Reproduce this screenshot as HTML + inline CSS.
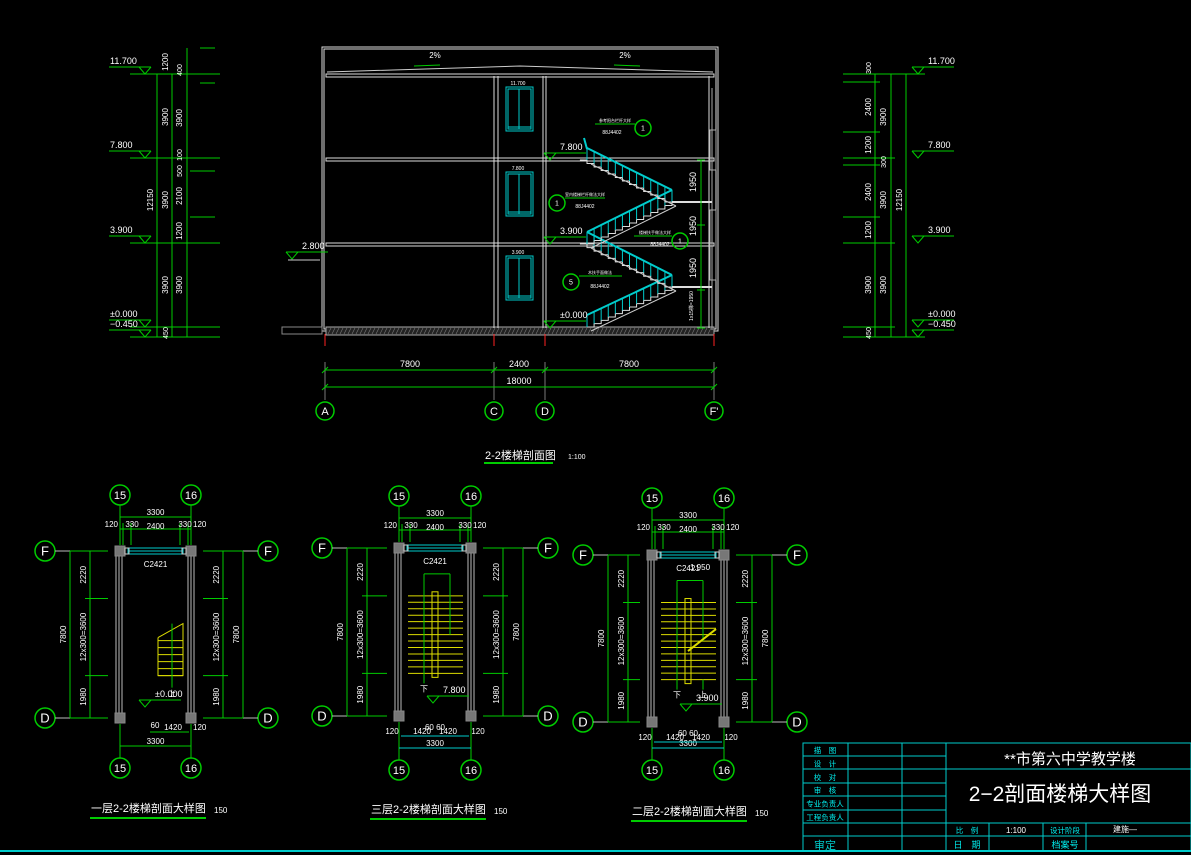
<!DOCTYPE html>
<html><head><meta charset="utf-8"><style>
html,body{margin:0;padding:0;background:#000;width:1191px;height:855px;overflow:hidden}
svg{display:block}
text{font-family:"Liberation Sans","Noto Sans CJK SC",sans-serif;fill:#fff}
</style></head><body>
<svg id="s" width="1191" height="855" viewBox="0 0 1191 855" xmlns="http://www.w3.org/2000/svg">
<rect width="1191" height="855" fill="#000"/>
<g id="g"></g>
</svg>
<script>
var o=[];
function L(x1,y1,x2,y2,c,w){o.push('<line x1="'+x1+'" y1="'+y1+'" x2="'+x2+'" y2="'+y2+'" stroke="'+(c||'#0c0')+'" stroke-width="'+(w||1)+'"/>');}
function R(x,y,w,h,c,f,sw){o.push('<rect x="'+x+'" y="'+y+'" width="'+w+'" height="'+h+'" stroke="'+(c||'#fff')+'" fill="'+(f||'none')+'" stroke-width="'+(sw||1)+'"/>');}
function T(x,y,t,s,a,rot,c){o.push('<text x="'+x+'" y="'+y+'" font-size="'+(s||9)+'" text-anchor="'+(a||'middle')+'"'+(rot?' transform="rotate(-90 '+x+' '+y+')"':'')+(c?' style="fill:'+c+'"':'')+'>'+t+'</text>');}
function C(x,y,r,t,s){o.push('<circle cx="'+x+'" cy="'+y+'" r="'+r+'" stroke="#0c0" stroke-width="1.5" fill="none"/>');T(x,y+s*0.36,t,s);}
function P(pts,c,w){o.push('<polyline points="'+pts+'" stroke="'+c+'" fill="none" stroke-width="'+(w||1)+'"/>');}
function LV(x,y,t,right){ // level marker; triangle apex at (x,y)
  P((x-6)+','+(y-7)+' '+x+','+y+' '+(x+6)+','+(y-7),'#0c0');
  if(right){L(x-6,y-7,x+36,y-7);T(x+10,y-10,t,9,'start');}
  else{L(x+6,y-7,x-36,y-7);T(x-35,y-10,t,9,'start');}
}
/* ---------- section ---------- */
var W='#ddd';
R(322,47,396,284,W);R(324,49,392,280,W);
// slabs
[74,158,243].forEach(function(y){R(326,y,388,3,W);});
R(326,327,388,8,'#aaa','#222');
for(var i=328;i<712;i+=4)L(i,334,i+3,328,'#777',0.6);
// roof slope
P('327,72 520,66 713,72','#ccc');
T(435,58,'2%',8);T(625,58,'2%',8);L(414,66,440,65,'#0c0');L(614,65,640,66,'#0c0');
// columns
[[494,498],[543,546]].forEach(function(c){L(c[0],76,c[0],328,W);L(c[1],76,c[1],328,W);});
L(709,76,709,328,W);L(712,88,712,330,'#aaa');
R(710,130,6,40,'#aaa');R(710,210,6,70,'#aaa');
// windows
[87,172,256].forEach(function(y){R(506,y,27,44,'#0cc');R(508,y+2,23,40,'#0cc');L(519,y+2,519,y+42,'#0cc');L(508,y+40,531,y+40,'#0cc');});
T(518,85,'11.700',5);T(518,170,'7.800',5);T(518,254,'3.900',5);
// stairs
function fl(x1,y1,x2,y2){var n=12;var pts='';for(var k=0;k<=n;k++){var x=x1+(x2-x1)*k/n,y=y1+(y2-y1)*k/n;pts+=x+','+y+' '+(x+(x2-x1)/n)+','+y+' ';}
 P(pts,'#ddd',1);L(x1+4,y1+4,x2+4,y2+4,'#ccc');
 // railing
 var ry=-12;L(x1,y1+ry,x2,y2+ry,'#0cc',2);for(var k=0;k<=n;k++){var x=x1+(x2-x1)*k/n,y=y1+(y2-y1)*k/n;L(x,y+ry,x,y,'#0cc',1);}
}
fl(587,327,672,287);fl(672,287,587,244);fl(587,244,672,202);fl(672,202,587,160);
L(672,287,712,287,'#ddd',2);L(672,202,712,202,'#ddd',2);
L(584,138,587,149,'#0cc',2);
// level markers in section
LV(550,160,'7.800',1);LV(550,244,'3.900',1);LV(550,328,'±0.000',1);LV(292,259,'2.800',1);
L(288,260,320,260,'#ccc');
R(282,327,40,7,'#888');
// notes
C(643,128,8,'1',7);L(595,124,635,124);T(615,122,'参考阳台栏杆大样',4);T(612,134,'88J4402',5);
C(557,203,8,'1',7);L(565,198,605,198);T(585,196,'室内楼梯栏杆做法大样',4);T(585,208,'88J4402',5);
C(680,241,8,'1',7);L(634,236,672,236);T(655,234,'楼梯扶手做法大样',4);T(660,246,'88J4402',5);
C(571,282,8,'5',7);L(579,276,622,276);T(600,274,'木扶手面做法',4);T(600,288,'88J4402',5);
// right dims in section
L(701,160,701,328);[160,225,290,328].forEach(function(y){L(697,y,705,y);});
T(696,182,'1950',9,'middle',1);T(696,226,'1950',9,'middle',1);T(696,268,'1950',9,'middle',1);
T(693,306,'1x15梯=1950',5,'middle',1);
// grid ticks
[325,494,545,714].forEach(function(x){L(x,334,x,346,'#f22');L(x,362,x,400,'#ccc',0.6);C(x,411,9,{325:'A',494:'C',545:'D',714:'F\''}[x],11);});
L(325,370,714,370);L(325,387,714,387);
[325,494,545,714].forEach(function(x){L(x-3,373,x+3,367);});L(322,390,328,384);L(711,390,717,384);
T(410,367,'7800',9);T(519,367,'2400',9);T(629,367,'7800',9);T(519,384,'18000',9);
T(485,459,'2-2楼梯剖面图',11,'start');T(568,459,'1:100',7,'start');L(484,463,553,463,'#0c0',2);
/* ---------- side dims ---------- */
// left
[157,172,187].forEach(function(x){L(x,74,x,337);});
L(187,48,187,74);L(200,48,215,48);
[[74,130,220],[83,200,215],[158,130,220],[171,190,215],[217,190,215],[243,130,220],[327,130,220],[337,130,220]].forEach(function(a){L(a[1],a[0],a[2],a[0]);});
LV(145,74,'11.700');LV(145,158,'7.800');LV(145,243,'3.900');LV(145,327,'±0.000');LV(145,337,'−0.450');
T(168,62,'1200',8,'middle',1);T(182,70,'400',7,'middle',1);T(168,117,'3900',8,'middle',1);T(182,118,'3900',8,'middle',1);
T(153,200,'12150',8,'middle',1);T(168,200,'3900',8,'middle',1);T(182,155,'100',7,'middle',1);T(182,171,'500',7,'middle',1);T(182,196,'2100',8,'middle',1);T(182,231,'1200',8,'middle',1);
T(168,285,'3900',8,'middle',1);T(182,285,'3900',8,'middle',1);T(168,333,'450',7,'middle',1);
// right
[875,891,906].forEach(function(x){L(x,74,x,337);});
[[74,843,925],[82,843,880],[132,843,880],[158,843,895],[165,843,880],[217,843,880],[243,843,895],[327,843,895],[337,843,925]].forEach(function(a){L(a[1],a[0],a[2],a[0]);});
LV(918,74,'11.700',1);LV(918,158,'7.800',1);LV(918,243,'3.900',1);LV(918,327,'±0.000',1);LV(918,337,'−0.450',1);
T(871,68,'300',7,'middle',1);T(871,107,'2400',8,'middle',1);T(886,117,'3900',8,'middle',1);T(871,145,'1200',8,'middle',1);T(886,162,'300',7,'middle',1);
T(871,192,'2400',8,'middle',1);T(886,200,'3900',8,'middle',1);T(871,230,'1200',8,'middle',1);T(902,200,'12150',8,'middle',1);
T(871,285,'3900',8,'middle',1);T(886,285,'3900',8,'middle',1);T(871,333,'450',7,'middle',1);
/* ---------- plans ---------- */
function plan(a,b,yF,yD,xL,xR,ct,cb,typ,title,tx,ty,lv,lvY){
  var h=yD-yF,y1=yF+h*2220/7800,y2=yF+h*5820/7800;
  // walls
  [a-4,a-1,a+2,b-3,b,b+3].forEach(function(x){L(x,yF,x,yD,'#bbb');});
  [[a,yF],[b,yF],[a,yD],[b,yD]].forEach(function(p){R(p[0]-5,p[1]-5,10,10,'#888','#777');});
  R(a+8,yF-3,b-a-16,6,'#0cc');L(a+8,yF,b-8,yF,'#0cc');R(a+5,yF-3,4,6,'#ccc');R(b-9,yF-3,4,6,'#ccc');
  T((a+b)/2,yF+16,'C2421',8);
  // axes
  C(a,ct,10,'15',11);C(b,ct,10,'16',11);C(a,cb,10,'15',11);C(b,cb,10,'16',11);
  L(a,ct+10,a,yF-6);L(b,ct+10,b,yF-6);L(a,yD+6,a,cb-10);L(b,yD+6,b,cb-10);
  L(a,ct+22,b,ct+22);T((a+b)/2,ct+20,'3300',8);
  L(a,ct+34,b,ct+34);[a+3,a+11,b-11,b-3].forEach(function(x){L(x,ct+28,x,yF-6);});
  T(a-2,ct+32,'120',8,'end');T(a+12,ct+32,'330',8);T((a+b)/2,ct+34,'2400',8);T(b-6,ct+32,'330',8);T(b+2,ct+32,'120',8,'start');
  L(a,cb-22,b,cb-22,typ==1?'#0c0':'#0cc');T((a+b)/2,cb-24,'3300',8);
  if(typ==1){L(a+30,yD+14,b-2,yD+14);T(a+35,yD+10,'60',8);T(a+53,yD+12,'1420',8);T(b+2,yD+12,'120',8,'start');}
  else{L(a+2,yD+20,b-2,yD+20,'#0cc');T(a-7,yD+18,'120',8);T(a+23,yD+18,'1420',8);T(b-23,yD+18,'1420',8);T(b+7,yD+18,'120',8);T((a+b)/2,yD+14,'60 60',8);}
  // F/D
  C(xL,yF,10,'F',13);C(xR,yF,10,'F',13);C(xL,yD,10,'D',13);C(xR,yD,10,'D',13);
  [yF,yD].forEach(function(y){L(xL+10,y,xL+25,y,'#bbb');L(xL+25,y,a-12,y);L(xR-10,y,xR-25,y,'#bbb');L(xR-25,y,b+12,y);});
  [y1,y2].forEach(function(y){L(xL+40,y,a-12,y);L(xR-40,y,b+12,y);});
  var lx=xL+25,mx=xL+45,rx=xR-25,nx=xR-45;
  L(lx,yF,lx,yD);L(mx,yF,mx,yD);L(rx,yF,rx,yD);L(nx,yF,nx,yD);
  T(lx-4,(yF+yD)/2,'7800',8,'middle',1);T(rx-4,(yF+yD)/2,'7800',8,'middle',1);
  [[mx,1],[nx,1]].forEach(function(q){T(q[0]-4,(yF+y1)/2,'2220',8,'middle',1);T(q[0]-4,(y1+y2)/2,'12x300=3600',8,'middle',1);T(q[0]-4,(y2+yD)/2,'1980',8,'middle',1);});
  var Y='#dd0';
  if(typ==1){
    var sx=a+38,ex=b-8;
    for(var k=0;k<6;k++){var y=y2-k*7;L(sx,y,ex,y,Y);}
    P(sx+','+(y2-38)+' '+sx+','+y2+' '+ex+','+y2+' '+ex+','+(y2-52)+' '+sx+','+(y2-38),Y);
    L(a+52,y2-52,a+52,y2+12);T(a+52,y2+21,'上',8);
  } else {
    var sx=a+9,ex=b-8;
    for(var k=0;k<13;k++){var y=y1+k*(y2-y1)/12;L(sx,y,ex,y,Y);}
    R(a+33,y1-4,6,y2-y1+8,Y);
    L(a+25,y1-22,a+51,y1-22);L(a+25,y1-22,a+25,y2+10);L(a+51,y1-22,a+51,(y1+y2)/2);
    T(a+25,y2+18,'下',8);if(typ==3){T(a+51,y2+18,'上',8);L(a+51,y2,a+51,y2+10);P((a+36)+','+((y1+y2)/2+10)+' '+(b-8)+','+((y1+y2)/2-12),Y,2);}
  }
  LV(lv[0],lvY,lv[1],1);
  T(tx,ty,title,11,'start');L(tx-1,ty+6,tx+115,ty+6,'#0c0',2);T(tx+123,ty+1,'150',8,'start');
}
plan(120,191,551,718,45,268,495,768,1,'一层2-2楼梯剖面大样图',91,812,[145,'±0.000'],707);
plan(399,471,548,716,322,548,496,770,2,'三层2-2楼梯剖面大样图',371,813,[433,'7.800'],703);
plan(652,724,555,722,583,797,498,770,3,'二层2-2楼梯剖面大样图',632,815,[686,'3.900'],711);
o.push('<text x="690" y="570" font-size="8" style="fill:#fff">1.950</text>');
/* ---------- title block ---------- */
var c='#0cc';
R(803,743,388,108,c);L(0,851,1191,851,c,2);
[756,769,783,796,810,823].forEach(function(y){L(803,y,946,y,c);});
L(946,769,1191,769,c);L(803,836,1191,836,c);
[848,902,946].forEach(function(x){L(x,743,x,851,c);});
[989,1043,1086].forEach(function(x){L(x,823,x,851,c);});L(946,823,1191,823,c);
var lab=['描　图','设　计','校　对','审　核','专业负责人','工程负责人'];
lab.forEach(function(t,i){T(825,753+i*13.4,t,7.5,'middle',0,'#0ee');});
T(825,849,'审定',11,'middle',0,'#0cc');
T(1070,764,'**市第六中学教学楼',15);
T(1060,801,'2−2剖面楼梯大样图',21);
T(967,833,'比　例',7.5,'middle',0,'#0ee');T(1016,833,'1:100',8);T(1065,833,'设计阶段',7.5,'middle',0,'#0ee');T(1125,832,'建施—',8);
T(967,848,'日　期',9,'middle',0,'#0ee');T(1065,848,'档案号',9,'middle',0,'#0ee');
document.getElementById('g').innerHTML=o.join('');
</script>
</body></html>
